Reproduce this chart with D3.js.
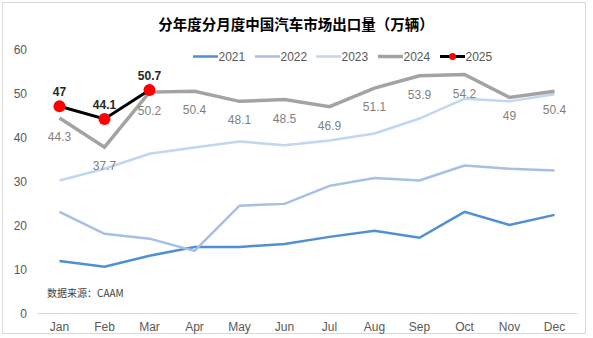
<!DOCTYPE html>
<html>
<head>
<meta charset="utf-8">
<script src="https://cdn.jsdelivr.net/npm/d3@7"></script>
<style>
  html, body { margin: 0; padding: 0; background: #fff; }
  svg { display: block; font-family: "Liberation Sans", Arial, "Noto Sans CJK SC", sans-serif; }
</style>
</head>
<body>
<svg id="chart" width="593" height="338"></svg>
<script>
// Monthly China vehicle exports, 10k units
const months = ["Jan","Feb","Mar","Apr","May","Jun","Jul","Aug","Sep","Oct","Nov","Dec"];
const yTicks = [0, 10, 20, 30, 40, 50, 60];
const v2021 = [11.8, 10.5, 13.0, 15.0, 15.0, 15.7, 17.3, 18.7, 17.1, 23.0, 20.0, 22.3];
const v2022 = [23.0, 18.0, 16.9, 14.1, 24.4, 24.8, 28.9, 30.7, 30.1, 33.5, 32.8, 32.4];
const v2023 = [30.1, 32.8, 36.2, 37.6, 39.0, 38.1, 39.2, 40.8, 44.2, 48.7, 48.1, 49.7];
const v2024 = [44.3, 37.7, 50.2, 50.4, 48.1, 48.5, 46.9, 51.1, 53.9, 54.2, 49, 50.4];
const v2025 = [47, 44.1, 50.7];

const series = [
  { name: "2021", values: v2021, color: "#4f8fd2", width: 2.5 },
  { name: "2022", values: v2022, color: "#a5bfe6", width: 2.5 },
  { name: "2023", values: v2023, color: "#c0d7ef", width: 2.5 },
  { name: "2024", values: v2024, color: "#a3a3a3", width: 3.5 },
  { name: "2025", values: v2025, color: "#000000", width: 3 }
];

const svg = d3.select("#chart");

// outer frame
svg.append("rect")
  .attr("x", 2.5).attr("y", 2.5).attr("width", 583).attr("height", 331)
  .attr("fill", "#fff").attr("stroke", "#d9d9d9").attr("stroke-width", 1);

const x = d3.scaleBand().domain(months).range([37, 577]);
const y = d3.scaleLinear().domain([0, 60]).range([313, 49]);
const cx = m => x(m) + x.bandwidth() / 2;

// title
svg.append("text")
  .attr("x", 296).attr("y", 30)
  .attr("text-anchor", "middle")
  .attr("font-size", 14.5).attr("font-weight", "bold")
  .attr("fill", "#000")
  .attr("font-family", "'Noto Sans CJK SC', sans-serif")
  .text("分年度分月度中国汽车市场出口量（万辆）");

// y tick labels
svg.append("g").selectAll("text").data(yTicks).join("text")
  .attr("x", 27).attr("y", d => y(d) + 4.5)
  .attr("text-anchor", "end")
  .attr("font-size", 12).attr("fill", "#595959")
  .text(d => d);

// x axis
const xAxis = svg.append("g")
  .attr("transform", "translate(0,313)")
  .call(d3.axisBottom(x).tickSize(0).tickPadding(9));
xAxis.select(".domain").attr("stroke", "#d9d9d9").attr("stroke-width", 1);
xAxis.selectAll("text")
  .attr("font-size", 12).attr("fill", "#595959")
  .attr("font-family", "'Liberation Sans', Arial, sans-serif");

// lines
const line = d3.line()
  .x((d, i) => cx(months[i]))
  .y(d => y(d));

series.forEach(s => {
  svg.append("path")
    .datum(s.values)
    .attr("fill", "none")
    .attr("stroke", s.color)
    .attr("stroke-width", s.width)
    .attr("stroke-linejoin", "miter")
    .attr("d", line);
});

// 2025 markers
svg.append("g").selectAll("circle").data(v2025).join("circle")
  .attr("cx", (d, i) => cx(months[i]))
  .attr("cy", d => y(d))
  .attr("r", 6)
  .attr("fill", "#ff0000");

// 2024 labels below points
svg.append("g").selectAll("text").data(v2024).join("text")
  .attr("x", (d, i) => cx(months[i]))
  .attr("y", d => y(d) + 23)
  .attr("text-anchor", "middle")
  .attr("font-size", 12).attr("fill", "#7f7f7f")
  .text(d => d);

// 2025 labels above points
svg.append("g").selectAll("text").data(v2025).join("text")
  .attr("x", (d, i) => cx(months[i]))
  .attr("y", d => y(d) - 10)
  .attr("text-anchor", "middle")
  .attr("font-size", 12).attr("font-weight", "bold").attr("fill", "#262626")
  .text(d => d);

// legend
const legendX = [193, 255, 316, 378, 440];
const lg = svg.append("g");
series.forEach((s, i) => {
  const g = lg.append("g").attr("transform", `translate(${legendX[i]},56.5)`);
  g.append("line")
    .attr("x1", 0).attr("x2", 25).attr("y1", 0).attr("y2", 0)
    .attr("stroke", s.color).attr("stroke-width", s.width);
  if (s.name === "2025") {
    g.append("circle").attr("cx", 12.5).attr("cy", 0).attr("r", 3.5).attr("fill", "#ff0000");
  }
  g.append("text")
    .attr("x", 25.5).attr("y", 4.5)
    .attr("font-size", 12).attr("fill", "#595959")
    .text(s.name);
});

// source note
svg.append("text")
  .attr("x", 47).attr("y", 296.5)
  .attr("font-size", 10).attr("fill", "#404040")
  .attr("font-family", "'Noto Sans CJK SC', sans-serif")
  .text("数据来源：CAAM");
</script>
</body>
</html>
